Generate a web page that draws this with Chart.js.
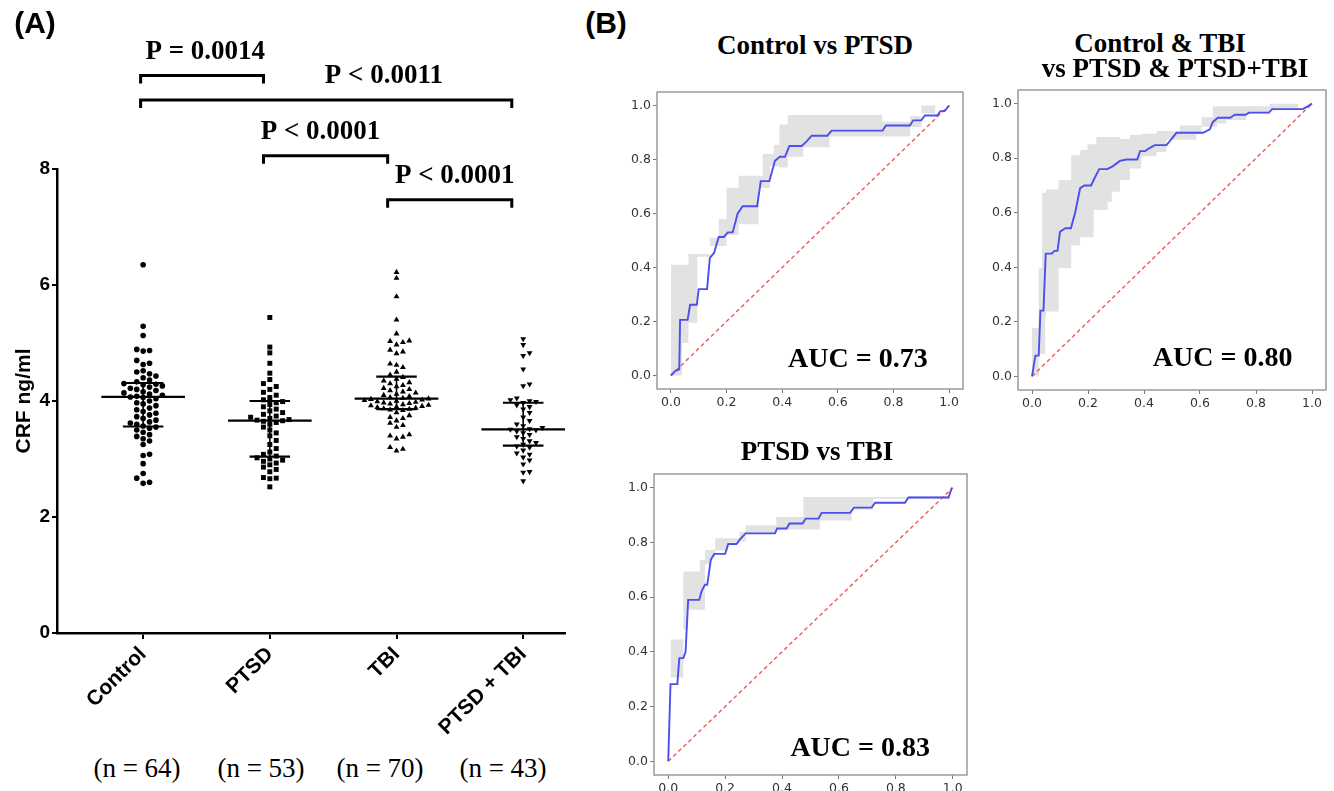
<!DOCTYPE html>
<html><head><meta charset="utf-8">
<script src="https://cdn.jsdelivr.net/npm/chart.js@4.4.0/dist/chart.umd.min.js"></script>
<style>
body{margin:0;background:#fff;width:1334px;height:791px;overflow:hidden;position:relative;}
canvas{position:absolute;}
.t{position:absolute;white-space:nowrap;color:#000;transform:translate(-50%,-50%);line-height:1;}
.pl{font:bold 30px 'Liberation Sans',Arial,sans-serif;}
.ti{font:bold 27px 'Liberation Serif',serif;}
.n{font:27px 'Liberation Serif',serif;}
</style></head>
<body>
<canvas id="cA" width="580" height="743" style="left:0;top:0"></canvas>
<canvas id="c1" width="380" height="340" style="left:600px;top:80px"></canvas>
<canvas id="c2" width="354" height="342" style="left:980px;top:78px"></canvas>
<canvas id="c3" width="383" height="329" style="left:597px;top:462px"></canvas>

<div class="t pl" style="left:35px;top:23px">(A)</div>
<div class="t pl" style="left:606px;top:23px">(B)</div>
<div class="t ti" style="left:815px;top:45px">Control vs PTSD</div>
<div class="t ti" style="left:1160px;top:43px">Control &amp; TBI</div>
<div class="t ti" style="left:1175px;top:68px">vs PTSD &amp; PTSD+TBI</div>
<div class="t ti" style="left:817px;top:451px">PTSD vs TBI</div>
<div id="nl"></div>

<script>
// ---------------- Panel A data ----------------
const groups = ['Control', 'PTSD', 'TBI', 'PTSD + TBI'];
const groupN = [64, 53, 70, 43];
const nLabelX = [137, 261, 380, 503];
const controlVals = [6.35,5.29,5.13,4.89,4.87,4.86,4.70,4.65,4.63,4.52,4.50,4.47,4.43,4.40,4.36,4.33,
  4.30,4.29,4.28,4.26,4.24,4.22,4.20,4.18,4.16,4.14,4.12,4.10,4.08,4.07,4.06,4.04,4.00,3.97,3.95,3.92,
  3.88,3.85,3.82,3.79,3.76,3.73,3.70,3.67,3.64,3.62,3.60,3.57,
  3.55,3.53,3.50,3.46,3.42,3.39,3.35,3.31,3.25,3.08,3.06,2.92,2.75,2.67,2.60,2.58];
const ptsdVals = [5.44,4.93,4.83,4.65,4.48,4.37,4.30,4.25,4.20,4.15,4.10,4.06,4.02,
  3.99,3.97,3.94,3.90,3.86,3.83,3.80,3.77,3.74,3.72,3.70,3.68,3.67,3.66,3.65,3.63,3.60,3.55,3.50,3.45,
  3.40,3.32,3.25,3.18,3.12,3.08,3.05,
  3.02,3.00,2.98,2.96,2.93,2.90,2.86,2.82,2.78,2.68,2.67,2.66,2.52];
const tbiVals = [6.22,6.12,5.80,5.40,5.16,5.04,5.03,5.01,4.97,4.88,4.85,4.82,4.64,4.62,4.58,4.50,4.45,
  4.41,4.38,4.35,4.32,4.30,4.27,4.25,4.22,4.20,4.18,4.16,4.14,4.12,4.10,4.08,4.06,4.05,4.04,4.03,4.02,
  4.01,4.00,3.99,3.98,3.97,3.96,3.95,3.94,3.93,3.92,3.91,3.90,3.89,3.88,3.87,3.86,
  3.85,3.84,3.80,3.75,3.72,3.70,3.66,3.62,3.58,3.55,3.42,3.40,3.38,3.35,3.20,3.17,3.14];
const comboVals = [5.07,4.97,4.83,4.78,4.55,4.29,4.26,4.05,4.02,4.00,3.99,
  3.97,3.93,3.90,3.86,3.80,3.72,3.66,3.60,3.57,3.54,3.52,3.51,3.50,3.48,3.45,3.42,3.38,3.35,3.31,3.28,3.25,
  3.22,3.20,3.15,3.10,3.08,3.03,2.98,2.91,2.78,2.77,2.62];
const medians = [4.07, 3.66, 4.04, 3.51];
const q1s = [3.56, 3.04, 3.86, 3.23];
const q3s = [4.31, 4.00, 4.42, 3.97];
const yTicksA = [0, 2, 4, 6, 8];
// significance brackets (group-index units, CRF levels)
const brFrom = [-0.02, -0.02, 0.95, 1.93];
const brTo = [0.95, 2.91, 1.93, 2.91];
const brLevel = [9.61, 9.19, 8.23, 7.47];
const brTextX = [0.49, 1.90, 1.40, 2.46];
const brText = ['P = 0.0014', 'P < 0.0011', 'P < 0.0001', 'P < 0.0001'];

// ---------------- ROC data ----------------
const rocTicks = [0, 0.2, 0.4, 0.6, 0.8, 1.0];
const roc1Fpr = [0,0.016,0.03,0.033,0.06,0.069,0.093,0.10,0.13,0.14,0.155,0.172,0.19,0.205,0.222,0.24,0.258,0.31,0.323,0.354,0.374,0.392,0.41,0.426,0.47,0.488,0.506,0.562,0.578,0.761,0.773,0.859,0.871,0.90,0.913,0.957,0.969,0.984,1.0];
const roc1Tpr = [0,0.017,0.023,0.206,0.206,0.262,0.262,0.32,0.32,0.436,0.454,0.513,0.513,0.53,0.53,0.60,0.627,0.627,0.72,0.72,0.795,0.81,0.81,0.85,0.85,0.867,0.888,0.888,0.907,0.907,0.926,0.926,0.945,0.945,0.963,0.963,0.979,0.979,1.0];
const roc1BandX = [0,0.04,0.063,0.095,0.14,0.172,0.20,0.243,0.315,0.33,0.356,0.37,0.39,0.42,0.476,0.57,0.76,0.86,0.90,0.95,1.0];
const roc1BandLo = [0,0,0.12,0.195,0.44,0.48,0.48,0.52,0.56,0.695,0.695,0.775,0.775,0.77,0.81,0.845,0.885,0.885,0.92,0.97,1.0];
const roc1BandHi = [0.03,0.41,0.41,0.45,0.45,0.51,0.58,0.695,0.74,0.74,0.82,0.82,0.855,0.93,0.965,0.965,0.965,0.94,0.96,1.0,1.0];

const roc2Fpr = [0,0.012,0.024,0.03,0.041,0.049,0.071,0.08,0.091,0.10,0.119,0.139,0.154,0.172,0.187,0.211,0.225,0.24,0.269,0.288,0.314,0.338,0.376,0.386,0.404,0.421,0.439,0.48,0.49,0.516,0.611,0.635,0.646,0.664,0.708,0.724,0.763,0.775,0.846,0.858,0.967,0.985,1.0];
const roc2Tpr = [0,0.076,0.076,0.241,0.241,0.45,0.45,0.46,0.46,0.53,0.543,0.543,0.60,0.69,0.70,0.70,0.73,0.76,0.76,0.77,0.79,0.795,0.795,0.826,0.826,0.838,0.848,0.848,0.86,0.893,0.893,0.906,0.933,0.948,0.948,0.959,0.959,0.967,0.967,0.98,0.98,0.99,1.0];
const roc2BandX = [0,0.012,0.024,0.036,0.047,0.05,0.095,0.14,0.172,0.198,0.22,0.23,0.27,0.285,0.314,0.35,0.39,0.445,0.48,0.528,0.587,0.605,0.646,0.66,0.694,0.765,0.848,0.95,1.0];
const roc2BandLo = [0,0,0,0.083,0.083,0.22,0.238,0.396,0.48,0.51,0.51,0.61,0.61,0.64,0.677,0.72,0.762,0.807,0.823,0.868,0.868,0.89,0.915,0.915,0.927,0.94,0.963,0.976,1.0];
const roc2BandHi = [0.03,0.177,0.177,0.396,0.673,0.673,0.685,0.72,0.811,0.83,0.851,0.851,0.878,0.878,0.878,0.87,0.885,0.89,0.9,0.9,0.92,0.92,0.95,0.99,0.99,0.99,0.99,1.0,1.0];

const roc3Fpr = [0,0.008,0.032,0.039,0.053,0.061,0.07,0.109,0.117,0.129,0.137,0.15,0.162,0.20,0.211,0.24,0.252,0.272,0.375,0.383,0.416,0.426,0.472,0.483,0.528,0.539,0.639,0.653,0.715,0.727,0.832,0.844,0.985,0.997];
const roc3Tpr = [0,0.282,0.282,0.377,0.377,0.40,0.59,0.59,0.621,0.645,0.645,0.738,0.758,0.758,0.794,0.794,0.811,0.833,0.833,0.851,0.851,0.869,0.869,0.887,0.887,0.908,0.908,0.927,0.927,0.945,0.945,0.964,0.964,1.0];
const roc3BandX = [0.008,0.035,0.053,0.07,0.111,0.129,0.15,0.165,0.21,0.25,0.272,0.38,0.475,0.533,0.645,0.72,0.845,0.99,1.0];
const roc3BandLo = [0.118,0.306,0.306,0.482,0.554,0.554,0.72,0.745,0.77,0.80,0.803,0.83,0.847,0.847,0.88,0.92,0.96,0.96,1.0];
const roc3BandHi = [0.445,0.445,0.445,0.694,0.694,0.736,0.772,0.772,0.815,0.815,0.839,0.863,0.893,0.966,0.966,0.966,0.966,0.97,1.0];
const aucText = ['AUC = 0.73', 'AUC = 0.80', 'AUC = 0.83'];
const aucPos = [[0.923, 0.06], [0.93, 0.065], [0.92, 0.046]];

// n labels
document.getElementById('nl').innerHTML = groupN.map((n, i) =>
  `<div class="t n" style="left:${nLabelX[i]}px;top:768px">(n = ${n})</div>`).join('');

// ---------------- Panel A ----------------
const PX_X = 126.7, PX_Y = 58;
function swarm(vals) {
  const order = vals.map((v, i) => i).sort((a, b) => vals[a] - vals[b]);
  const placed = [], off = new Array(vals.length);
  const step = 6.4, dmin = 5.8;
  for (const i of order) {
    const y = vals[i] * PX_Y;
    for (let k = 0; k < 80; k++) {
      const c = (k === 0 ? 0 : (k % 2 ? 1 : -1) * Math.ceil(k / 2)) * step;
      if (placed.every(p => Math.hypot(p.x - c, p.y - y) >= dmin)) {
        placed.push({x: c, y}); off[i] = c / PX_X; break;
      }
    }
  }
  return off;
}
const allVals = [controlVals, ptsdVals, tbiVals, comboVals];
const styles = [
  {pointStyle: 'circle', radius: 2.8, rotation: 0},
  {pointStyle: 'rect', radius: 3.5, rotation: 0},
  {pointStyle: 'triangle', radius: 3.4, rotation: 0},
  {pointStyle: 'triangle', radius: 3.4, rotation: 180}
];
const dsA = [];
allVals.forEach((vals, g) => {
  const off = swarm(vals);
  dsA.push({
    data: vals.map((v, i) => ({x: g + off[i], y: v})),
    pointStyle: styles[g].pointStyle, pointRadius: styles[g].radius, pointRotation: styles[g].rotation,
    backgroundColor: '#000', borderColor: '#000', borderWidth: 0, showLine: false
  });
});
const seg = (x1, y1, x2, y2, w) => ({
  data: [{x: x1, y: y1}, {x: x2, y: y2}], showLine: true, borderColor: '#000', borderWidth: w,
  pointRadius: 0, fill: false
});
medians.forEach((m, g) => {
  dsA.push(seg(g - 0.33, m, g + 0.33, m, 2.2));
  dsA.push(seg(g - 0.16, q3s[g], g + 0.16, q3s[g], 2.2));
  dsA.push(seg(g - 0.16, q1s[g], g + 0.16, q1s[g], 2.2));
  dsA.push(seg(g, q1s[g], g, q3s[g], 1.6));
});

const bracketPlugin = {
  id: 'brackets',
  afterDraw(chart) {
    const {ctx, scales: {x, y}} = chart;
    ctx.save();
    ctx.strokeStyle = '#000'; ctx.lineWidth = 3; ctx.lineCap = 'butt'; ctx.lineJoin = 'miter';
    ctx.fillStyle = '#000';
    ctx.font = "bold 27px 'Liberation Serif', serif";
    ctx.textAlign = 'center'; ctx.textBaseline = 'middle';
    brFrom.forEach((f, i) => {
      const x1 = x.getPixelForValue(f), x2 = x.getPixelForValue(brTo[i]);
      const yy = y.getPixelForValue(brLevel[i]);
      ctx.beginPath();
      ctx.moveTo(x1, yy + 8); ctx.lineTo(x1, yy); ctx.lineTo(x2, yy); ctx.lineTo(x2, yy + 8);
      ctx.stroke();
      ctx.fillText(brText[i], x.getPixelForValue(brTextX[i]), yy - 24);
    });
    ctx.restore();
  }
};

new Chart(document.getElementById('cA'), {
  type: 'scatter',
  data: {datasets: dsA},
  options: {
    responsive: false, animation: false,
    layout: {padding: {top: 169, right: 15, left: 0, bottom: 0}},
    plugins: {legend: {display: false}, tooltip: {enabled: false}},
    scales: {
      x: {
        type: 'linear', min: -0.68, max: 3.33,
        afterBuildTicks: s => { s.ticks = groups.map((g, i) => ({value: i})); },
        afterFit: s => { s.height = 110; },
        ticks: {
          callback: v => groups[Math.round(v)], minRotation: 45, maxRotation: 45, autoSkip: false,
          color: '#000', padding: 3, font: {family: "'Liberation Sans', Arial", weight: 'bold', size: 21}
        },
        grid: {drawOnChartArea: false, drawTicks: true, tickLength: 6, color: '#000', lineWidth: 2},
        border: {display: true, color: '#000', width: 2.5}
      },
      y: {
        type: 'linear', min: 0, max: 8,
        afterBuildTicks: s => { s.ticks = yTicksA.map(v => ({value: v})); },
        afterFit: s => { s.width = 57; },
        title: {display: true, text: 'CRF ng/ml', color: '#000', padding: {top: 12, bottom: 0},
          font: {family: "'Liberation Sans', Arial", weight: 'bold', size: 21}},
        ticks: {color: '#000', padding: 2, font: {family: "'Liberation Sans', Arial", weight: 'bold', size: 19}},
        grid: {drawOnChartArea: false, drawTicks: true, tickLength: 5, color: '#000', lineWidth: 2},
        border: {display: true, color: '#000', width: 2.5}
      }
    }
  },
  plugins: [bracketPlugin]
});

// ---------------- ROC panels ----------------
function rocChart(id, fpr, tpr, bx, blo, bhi, k, yW, xH, pad) {
  const pts = (xs, ys) => xs.map((v, i) => ({x: v, y: ys[i]}));
  const framePlugin = {
    id: 'frame' + k,
    beforeDatasetsDraw(chart) {
      const {ctx, chartArea: a} = chart;
      ctx.save(); ctx.strokeStyle = '#9a9a9a'; ctx.lineWidth = 1.5;
      ctx.strokeRect(a.left, a.top, a.right - a.left, a.bottom - a.top);
      ctx.restore();
    },
    afterDatasetsDraw(chart) {
      const {ctx, scales: {x, y}} = chart;
      ctx.save(); ctx.fillStyle = '#000';
      ctx.font = "bold 28px 'Liberation Serif', serif";
      ctx.textAlign = 'right'; ctx.textBaseline = 'middle';
      ctx.fillText(aucText[k], x.getPixelForValue(aucPos[k][0]), y.getPixelForValue(aucPos[k][1]));
      ctx.restore();
    }
  };
  const axis = (isX) => ({
    type: 'linear', min: -0.05, max: 1.05,
    afterBuildTicks: s => { s.ticks = rocTicks.map(v => ({value: v})); },
    afterFit: s => { if (isX) s.height = xH; else s.width = yW; },
    ticks: {callback: v => v.toFixed(1), color: '#333', padding: 2,
      font: {family: "'DejaVu Sans', sans-serif", size: 12.5}},
    grid: {drawOnChartArea: false, drawTicks: true, tickLength: 4, color: '#777', lineWidth: 1},
    border: {display: false}
  });
  new Chart(document.getElementById(id), {
    type: 'scatter',
    data: {datasets: [
      {data: pts(fpr, tpr), showLine: true, borderColor: '#4b4ff0', borderWidth: 1.9, pointRadius: 0, order: 0},
      {data: [{x: 0, y: 0}, {x: 1, y: 1}], showLine: true, borderColor: '#ec5a52', borderWidth: 1.4,
        borderDash: [4, 3], pointRadius: 0, order: 1},
      {data: pts(bx, bhi), showLine: true, stepped: 'after', borderWidth: 0, borderColor: 'rgba(0,0,0,0)',
        backgroundColor: '#e2e2e2', fill: '+1', pointRadius: 0, order: 2},
      {data: pts(bx, blo), showLine: true, stepped: 'after', borderWidth: 0, borderColor: 'rgba(0,0,0,0)',
        fill: false, pointRadius: 0, order: 3}
    ]},
    options: {
      responsive: false, animation: false,
      layout: {padding: pad},
      plugins: {legend: {display: false}, tooltip: {enabled: false}},
      scales: {x: axis(true), y: axis(false)}
    },
    plugins: [framePlugin]
  });
}
rocChart('c1', roc1Fpr, roc1Tpr, roc1BandX, roc1BandLo, roc1BandHi, 0, 57, 31, {top: 12, right: 17, left: 0, bottom: 0});
rocChart('c2', roc2Fpr, roc2Tpr, roc2BandX, roc2BandLo, roc2BandHi, 1, 38, 30, {top: 12, right: 8, left: 0, bottom: 0});
rocChart('c3', roc3Fpr, roc3Tpr, roc3BandX, roc3BandLo, roc3BandHi, 2, 57, 16, {top: 12, right: 13, left: 0, bottom: 0});
</script>
</body></html>
